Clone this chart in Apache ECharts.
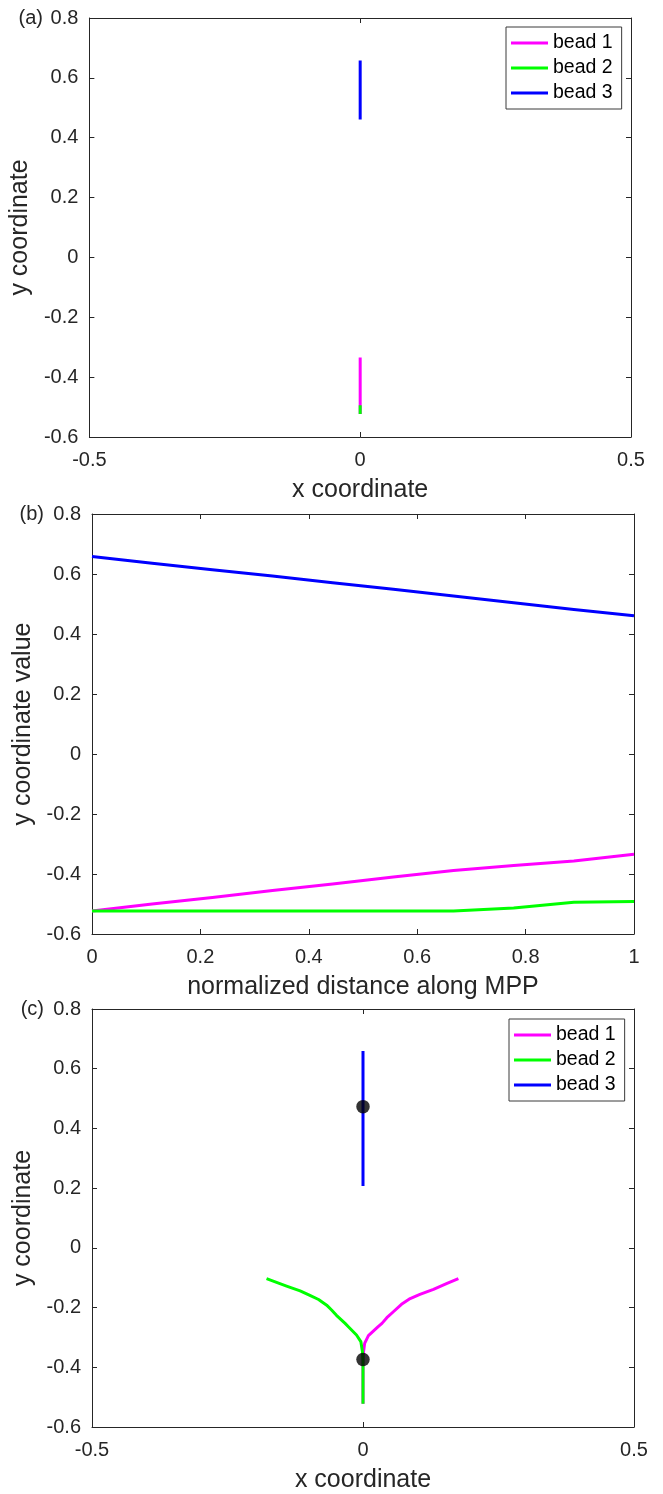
<!DOCTYPE html>
<html>
<head>
<meta charset="utf-8">
<script src="https://cdn.jsdelivr.net/npm/echarts@6/dist/echarts.min.js"></script>
<style>
  html, body { margin: 0; padding: 0; background: #fff; }
  #chart { width: 663px; height: 1494px; }
</style>
</head>
<body>
<div id="chart"></div>
<script>
// ---- data ----------------------------------------------------------------
// images along the path, normalized distance along MPP
const pathParam = [0, 0.111, 0.222, 0.333, 0.444, 0.556, 0.667, 0.778, 0.889, 1];
// y coordinate of each bead at every image
const bead1Y = [-0.523, -0.500, -0.478, -0.455, -0.433, -0.410, -0.388, -0.372, -0.357, -0.334];
const bead2Y = [-0.523, -0.523, -0.523, -0.523, -0.523, -0.523, -0.523, -0.513, -0.494, -0.492];
const bead3Y = [0.658, 0.636, 0.614, 0.593, 0.571, 0.549, 0.527, 0.504, 0.482, 0.461];
// x coordinate of each bead at every image (beads stay on the axis)
const bead1X = [0, 0, 0, 0, 0, 0, 0, 0, 0, 0];
const bead2X = [0, 0, 0, 0, 0, 0, 0, 0, 0, 0];
const bead3X = [0, 0, 0, 0, 0, 0, 0, 0, 0, 0];

// second path in the x-y plane
const pathC1X = [0, 0, 0.001, 0.003, 0.010, 0.019, 0.028, 0.035, 0.044, 0.056, 0.071, 0.087, 0.105, 0.130, 0.154, 0.176];
const pathC1Y = [-0.522, -0.376, -0.348, -0.320, -0.294, -0.279, -0.264, -0.253, -0.234, -0.214, -0.189, -0.170, -0.156, -0.139, -0.120, -0.103];
const pathC2X = [0, 0, -0.001, -0.004, -0.012, -0.027, -0.033, -0.049, -0.058, -0.067, -0.082, -0.098, -0.116, -0.141, -0.178];
const pathC2Y = [-0.522, -0.376, -0.348, -0.314, -0.292, -0.264, -0.253, -0.226, -0.208, -0.192, -0.173, -0.159, -0.144, -0.128, -0.103];
const pathC3X = [0, 0];
const pathC3Y = [0.659, 0.207];
// marked points on the second path
const markX = [0, 0];
const markY = [0.473, -0.374];

// axis ticks
const xyTicks = { min: -0.5, max: 0.5, interval: 0.5 };
const sTicks = { min: 0, max: 1, interval: 0.2 };
const yTicks = { min: -0.6, max: 0.8, interval: 0.2 };

const beadNames = ['bead 1', 'bead 2', 'bead 3'];
const beadColors = ['#ff00ff', '#00ff00', '#0000ff'];

// ---- styling helpers -----------------------------------------------------
const INK = '#262626';
const FONT = '"Liberation Sans", Arial, Helvetica, sans-serif';
const TITLE_SIZE = 25;

function pairs(xs, ys) { return xs.map((x, i) => [x, ys[i]]); }

function xAxisPair(grid, ticks, name) {
  const common = {
    gridIndex: grid, type: 'value',
    min: ticks.min, max: ticks.max, interval: ticks.interval,
    axisLine: { show: true, onZero: false, lineStyle: { color: INK, width: 1 } },
    axisTick: { show: true, inside: true, length: 5, lineStyle: { color: INK, width: 1 } },
    splitLine: { show: false }
  };
  return [
    Object.assign({}, common, {
      position: 'bottom',
      name: name, nameLocation: 'middle', nameGap: 41,
      nameTextStyle: { fontSize: TITLE_SIZE, color: INK, fontFamily: FONT },
      axisLabel: { show: true, margin: 13, fontSize: 20, color: INK, fontFamily: FONT,
                   showMinLabel: true, showMaxLabel: true }
    }),
    Object.assign({}, common, { position: 'top', axisLabel: { show: false } })
  ];
}

function yAxisPair(grid, ticks, name, gap) {
  const common = {
    gridIndex: grid, type: 'value',
    min: ticks.min, max: ticks.max, interval: ticks.interval,
    axisLine: { show: true, onZero: false, lineStyle: { color: INK, width: 1 } },
    axisTick: { show: true, inside: true, length: 5, lineStyle: { color: INK, width: 1 } },
    splitLine: { show: false }
  };
  return [
    Object.assign({}, common, {
      position: 'left',
      name: name, nameLocation: 'middle', nameGap: gap, nameRotate: 90,
      nameTextStyle: { fontSize: TITLE_SIZE, color: INK, fontFamily: FONT },
      axisLabel: { show: true, margin: 11, fontSize: 20, color: INK, fontFamily: FONT,
                   showMinLabel: true, showMaxLabel: true }
    }),
    Object.assign({}, common, { position: 'right', axisLabel: { show: false } })
  ];
}

function lineSeries(grid, idx, data) {
  return {
    type: 'line', name: beadNames[idx],
    xAxisIndex: grid * 2, yAxisIndex: grid * 2,
    data: data, showSymbol: false, symbol: 'none', smooth: false,
    lineStyle: { color: beadColors[idx], width: 3, join: 'round', cap: 'butt' },
    itemStyle: { color: beadColors[idx] },
    z: 2 + idx
  };
}

function legendAt(left, top) {
  return {
    orient: 'vertical', left: left, top: top,
    data: beadNames, icon: 'rect', itemWidth: 37, itemHeight: 3, itemGap: 5,
    padding: [6, 9, 6, 5],
    borderColor: '#3a3a3a', borderWidth: 1, backgroundColor: '#ffffff',
    selectedMode: false,
    textStyle: { fontSize: 19.5, lineHeight: 20, color: '#000', fontFamily: FONT }
  };
}

function panelTag(text, x, y) {
  return {
    type: 'text', x: x, y: y,
    style: { text: text, font: '20px ' + FONT, fill: INK, align: 'right', verticalAlign: 'middle' }
  };
}

// ---- chart ---------------------------------------------------------------
const chart = echarts.init(document.getElementById('chart'), null, { renderer: 'canvas' });

const option = {
  animation: false,
  backgroundColor: '#ffffff',
  grid: [
    { left: 89, top: 18, width: 542, height: 419 },
    { left: 92, top: 514, width: 542, height: 420 },
    { left: 92, top: 1009, width: 542, height: 420 }
  ],
  xAxis: [].concat(
    xAxisPair(0, xyTicks, 'x coordinate'),
    xAxisPair(1, sTicks, 'normalized distance along MPP'),
    xAxisPair(2, xyTicks, 'x coordinate')
  ),
  yAxis: [].concat(
    yAxisPair(0, yTicks, 'y coordinate', 53),
    yAxisPair(1, yTicks, 'y coordinate value', 52),
    yAxisPair(2, yTicks, 'y coordinate', 53)
  ),
  legend: [legendAt(506, 27), legendAt(509, 1019)],
  graphic: [
    panelTag('(a)', 43, 18),
    panelTag('(b)', 44, 514),
    panelTag('(c)', 44, 1009)
  ],
  series: [
    // (a) bead positions in the x-y plane
    lineSeries(0, 0, pairs(bead1X, bead1Y)),
    lineSeries(0, 1, pairs(bead2X, bead2Y)),
    lineSeries(0, 2, pairs(bead3X, bead3Y)),
    // (b) y coordinate along the path
    lineSeries(1, 0, pairs(pathParam, bead1Y)),
    lineSeries(1, 1, pairs(pathParam, bead2Y)),
    lineSeries(1, 2, pairs(pathParam, bead3Y)),
    // (c) second path in the x-y plane
    lineSeries(2, 0, pairs(pathC1X, pathC1Y)),
    lineSeries(2, 1, pairs(pathC2X, pathC2Y)),
    lineSeries(2, 2, pairs(pathC3X, pathC3Y)),
    {
      type: 'scatter', name: 'marked points',
      xAxisIndex: 4, yAxisIndex: 4,
      data: pairs(markX, markY),
      symbol: 'circle', symbolSize: 13.5,
      itemStyle: { color: '#000000' },
      z: 10
    }
  ]
};

chart.setOption(option);
</script>
</body>
</html>
